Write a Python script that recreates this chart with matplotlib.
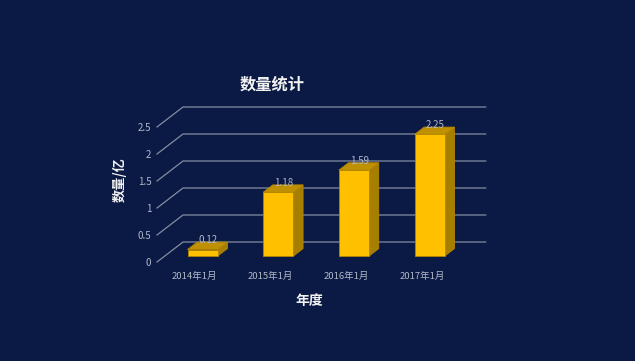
import matplotlib
matplotlib.use("Agg")
import matplotlib.pyplot as plt
from matplotlib.patches import Polygon

plt.rcParams["font.family"] = ["Noto Sans CJK SC", "DejaVu Sans"]

categories = ["2014年1月", "2015年1月", "2016年1月", "2017年1月"]
values = [0.12, 1.18, 1.59, 2.25]
y_ticks = [0, 0.5, 1, 1.5, 2, 2.5]
y_tick_labels = ["0", "0.5", "1", "1.5", "2", "2.5"]

BG = "#0A1A45"
GRID = "#858CA3"
TEXT = "#B4B9C8"
FRONT = "#FFC000"
TOP = "#BF9000"
SIDE = "#A67F00"
EDGE = "#B38600"

# oblique 3d look: depth 0 is the front plane, depth 1 the back wall
DX = 0.3436
DY = 0.3704
BAR_W = 0.4
Z0 = 0.3
Z1 = 0.67


def project(x, y, z):
    return (x + z * DX, y + z * DY)


def box_face(points):
    return [project(*p) for p in points]


fig = plt.figure(figsize=(6.35, 3.61), dpi=100, facecolor=BG)
ax = fig.add_axes([157 / 635, (361 - 262) / 361, 302.7 / 635, 135 / 361])
ax.set_facecolor("none")
ax.set_xlim(-0.5, 3.5)
ax.set_ylim(0, 2.5)

# grid runs along the side wall then the back wall
for tick in y_ticks:
    xs, ys = zip(*[project(-0.5, tick, 0), project(-0.5, tick, 1), project(3.5, tick, 1)])
    ax.plot(xs, ys, color=GRID, lw=0.9, clip_on=False, zorder=1)

for i, val in enumerate(values):
    l, r = i - BAR_W / 2, i + BAR_W / 2
    side = [(r, 0, Z0), (r, 0, Z1), (r, val, Z1), (r, val, Z0)]
    top = [(l, val, Z0), (r, val, Z0), (r, val, Z1), (l, val, Z1)]
    front = [(l, 0, Z0), (r, 0, Z0), (r, val, Z0), (l, val, Z0)]
    for face, col in [(side, SIDE), (top, TOP), (front, FRONT)]:
        ax.add_patch(Polygon(box_face(face), closed=True, facecolor=col, edgecolor=EDGE,
                             lw=0.6, clip_on=False, zorder=2))
    lx, ly = project(i, val, 0.52)
    ax.annotate(str(val), (lx, ly), xytext=(0, 0), textcoords="offset points", ha="center",
                va="bottom", color=TEXT, fontsize=7, zorder=3, annotation_clip=False)

ax.set_xticks(range(len(categories)))
ax.set_xticklabels(categories)
ax.set_yticks(y_ticks)
ax.set_yticklabels(y_tick_labels)
ax.tick_params(axis="x", length=0, pad=7, labelsize=6.8, labelcolor=TEXT)
ax.tick_params(axis="y", length=0, pad=4, labelsize=7, labelcolor=TEXT)
for spine in ax.spines.values():
    spine.set_visible(False)

fig.text(272.5 / 635, 1 - 85 / 361, "数量统计", color="#F2F2F2", fontsize=11.7, fontweight="bold",
         ha="center", va="center")
fig.text(309 / 635, 1 - 301 / 361, "年度", color="#F2F2F2", fontsize=10, fontweight="bold",
         ha="center", va="center")
fig.text(120 / 635, 1 - 180 / 361, "数量/亿", color="#F2F2F2", fontsize=9.5, fontweight="bold",
         rotation=90, ha="center", va="center")

fig.savefig("out.png", dpi=100, facecolor=BG)
